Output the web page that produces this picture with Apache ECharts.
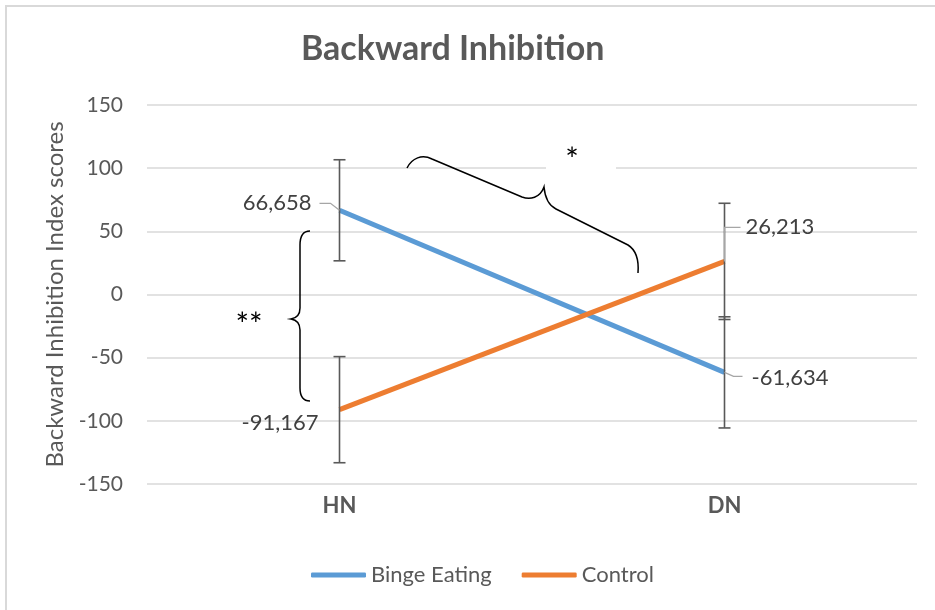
<!DOCTYPE html>
<html>
<head>
<meta charset="utf-8">
<script src="https://cdn.jsdelivr.net/npm/echarts@6/dist/echarts.min.js"></script>
<style>
  html, body { margin: 0; padding: 0; background: #fff; }
  #chart { width: 935px; height: 610px; }
</style>
</head>
<body>
<div id="chart"></div>
<script>
// Conditions on the x axis
const categories = ['HN', 'DN'];
// Mean Backward Inhibition Index per group
const bingeEating = [66.658, -61.634];
const control = [-91.167, 26.213];
// Error bar half-widths per group
const bingeError = [40, 44];
const controlError = [42, 46];
// Value axis ticks
const yTicks = [-150, -100, -50, 0, 50, 100, 150];

const FONT = 'Lato, "Open Sans", sans-serif';
const GREY = '#595959';

const fmt = v => v.toFixed(3).replace('.', ',');

const chart = echarts.init(document.getElementById('chart'));

// error bar rows: [categoryIndex, low, high]
const errRows = [];
bingeEating.forEach((v, i) => errRows.push([i, v - bingeError[i], v + bingeError[i]]));
control.forEach((v, i) => errRows.push([i, v - controlError[i], v + controlError[i]]));

// data labels: [categoryIndex, value, placement id]
const labelRows = [
  [0, bingeEating[0], 'hnB'],
  [1, bingeEating[1], 'dnB'],
  [0, control[0], 'hnC'],
  [1, control[1], 'dnC']
];

function errorBarItem(params, api) {
  const x = api.coord([api.value(0), 0])[0];
  const lo = api.coord([api.value(0), api.value(1)])[1];
  const hi = api.coord([api.value(0), api.value(2)])[1];
  const w = 6;
  const style = { stroke: GREY, lineWidth: 1.6, fill: null };
  return {
    type: 'group',
    children: [
      { type: 'line', shape: { x1: x, y1: lo, x2: x, y2: hi }, style },
      { type: 'line', shape: { x1: x - w, y1: lo, x2: x + w, y2: lo }, style },
      { type: 'line', shape: { x1: x - w, y1: hi, x2: x + w, y2: hi }, style }
    ]
  };
}

function labelItem(params, api) {
  const p = api.coord([api.value(0), api.value(1)]);
  const id = labelRows[params.dataIndex][2];
  const text = fmt(labelRows[params.dataIndex][1]);
  const tStyle = { text, fill: '#404040', font: '22px ' + FONT, textVerticalAlign: 'middle' };
  const lStyle = { stroke: '#a6a6a6', lineWidth: 1.3, fill: null };
  const kids = [];
  if (id === 'hnB') {
    kids.push({ type: 'polyline', shape: { points: [[p[0] - 20, p[1] - 7], [p[0] - 9, p[1] - 7], [p[0], p[1]]] }, style: lStyle });
    kids.push({ type: 'text', x: p[0] - 28, y: p[1] - 7, style: Object.assign({ textAlign: 'right' }, tStyle) });
  } else if (id === 'hnC') {
    kids.push({ type: 'text', x: p[0] - 21, y: p[1] + 13, style: Object.assign({ textAlign: 'right' }, tStyle) });
  } else if (id === 'dnC') {
    kids.push({ type: 'polyline', shape: { points: [[p[0] + 16, p[1] - 34], [p[0], p[1] - 34], [p[0], p[1]]] }, style: lStyle });
    kids.push({ type: 'text', x: p[0] + 21, y: p[1] - 34, style: Object.assign({ textAlign: 'left' }, tStyle) });
  } else {
    kids.push({ type: 'polyline', shape: { points: [[p[0], p[1]], [p[0] + 9, p[1] + 4], [p[0] + 18, p[1] + 4]] }, style: lStyle });
    kids.push({ type: 'text', x: p[0] + 27, y: p[1] + 6, style: Object.assign({ textAlign: 'left' }, tStyle) });
  }
  return { type: 'group', children: kids };
}

// curly braces marking the significant comparisons
function bracesItem() {
  const bs = { fill: null, stroke: '#000', lineWidth: 1.5 };
  const star = { fill: '#000', font: '32px ' + FONT, textAlign: 'center', textVerticalAlign: 'middle' };
  return {
    type: 'group',
    children: [
      { type: 'rect', shape: { x: 546, y: 138, width: 70, height: 34 }, style: { fill: '#fff' } },
      {
        type: 'path',
        shape: { pathData: 'M310,231 C303,231 300,236 300,245 L300,308 C300,315 297,318 291,319 C297,320 300,323 300,330 L300,388 C300,397 303,401 310,401' },
        style: bs
      },
      { type: 'text', x: 249, y: 326, style: Object.assign({ text: '**' }, star) },
      {
        type: 'path',
        shape: { pathData: 'M407,168 C412,158 422,154 432,159 L522,197 C530,200 540,198 544,187 C545,198 548,205 556,209 L628,245 C636,250 639,260 638,273' },
        style: bs
      },
      { type: 'text', x: 572, y: 161, style: Object.assign({ text: '*' }, star) }
    ]
  };
}

const option = {
  backgroundColor: '#fff',
  animation: false,
  title: {
    text: 'Backward Inhibition',
    left: 296,
    top: 27,
    textStyle: { fontFamily: FONT, fontSize: 34, fontWeight: 'bold', color: GREY }
  },
  legend: {
    bottom: 19,
    left: 306,
    icon: 'roundRect',
    itemWidth: 55,
    itemHeight: 5,
    itemGap: 30,
    data: ['Binge Eating', 'Control'],
    textStyle: { fontFamily: FONT, fontSize: 22, color: GREY }
  },
  grid: { left: 147, right: 18, top: 105, bottom: 126, containLabel: false },
  xAxis: {
    type: 'category',
    data: categories,
    boundaryGap: true,
    axisLine: { show: false },
    axisTick: { show: false },
    axisLabel: { margin: 11, fontFamily: FONT, fontSize: 22, fontWeight: 'bold', color: GREY }
  },
  yAxis: {
    type: 'value',
    min: yTicks[0],
    max: yTicks[yTicks.length - 1],
    interval: 50,
    name: 'Backward Inhibition Index scores',
    nameLocation: 'middle',
    nameGap: 74,
    nameTextStyle: { fontFamily: FONT, fontSize: 24, color: GREY },
    axisLine: { show: false },
    axisTick: { show: false },
    axisLabel: { margin: 24, fontFamily: FONT, fontSize: 21, color: GREY },
    splitLine: { lineStyle: { color: '#d9d9d9', width: 1.5 } }
  },
  series: [
    {
      name: 'Binge Eating',
      type: 'line',
      data: bingeEating,
      symbol: 'none',
      color: '#5b9bd5',
      lineStyle: { width: 5, color: '#5b9bd5' },
      z: 3
    },
    {
      name: 'Control',
      type: 'line',
      data: control,
      symbol: 'none',
      color: '#ed7d31',
      lineStyle: { width: 5, color: '#ed7d31' },
      z: 3
    },
    {
      name: 'errors',
      type: 'custom',
      renderItem: errorBarItem,
      data: errRows,
      encode: { x: 0, y: [1, 2] },
      z: 4,
      silent: true
    },
    {
      name: 'values',
      type: 'custom',
      renderItem: labelItem,
      data: labelRows.map(r => [r[0], r[1]]),
      encode: { x: 0, y: 1 },
      z: 5,
      silent: true
    },
    {
      name: 'braces',
      type: 'custom',
      renderItem: bracesItem,
      data: [[0, 0]],
      encode: { x: 0, y: 1 },
      z: 2,
      silent: true
    }
  ],
  graphic: [
    // outer chart frame
    { type: 'rect', shape: { x: 6, y: 6, width: 940, height: 620 }, style: { fill: null, stroke: '#d9d9d9', lineWidth: 2 }, z: 10 }
  ]
};

chart.setOption(option);
</script>
</body>
</html>
